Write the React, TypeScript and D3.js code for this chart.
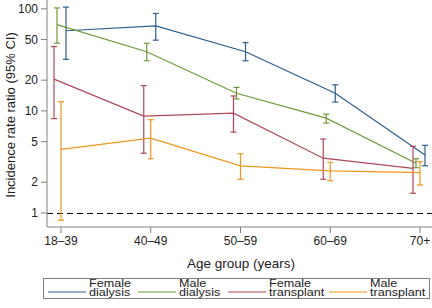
import React from "react";
import * as d3 from "d3";

const categories = ["18–39", "40–49", "50–59", "60–69", "70+"];
const seriesNames = ["Female dialysis", "Male dialysis", "Female transplant", "Male transplant"];
const legendLines = [["Female", "dialysis"], ["Male", "dialysis"], ["Female", "transplant"], ["Male", "transplant"]];
const colors = ["#2e5f8f", "#6e9a3a", "#b0485a", "#f0961e"];
const offsets = [5, -4, -7, 0];

const femaleDialysis = [61, 68, 38, 14.9, 3.7];
const femaleDialysisLo = [32, 49.3, 31, 12.2, 2.9];
const femaleDialysisHi = [104, 90, 46.7, 18, 4.6];

const maleDialysis = [70, 38, 14.9, 8.5, 3.07];
const maleDialysisLo = [46, 31, 13.1, 7.6, 2.78];
const maleDialysisHi = [102, 46, 17, 9.3, 3.4];

const femaleTransplant = [20.5, 8.9, 9.5, 3.44, 2.74];
const femaleTransplantLo = [8.4, 3.85, 6.2, 2.14, 1.56];
const femaleTransplantHi = [42.7, 17.7, 14, 5.3, 4.5];

const maleTransplant = [4.2, 5.4, 2.89, 2.58, 2.48];
const maleTransplantLo = [0.85, 3.4, 2.14, 2.07, 1.88];
const maleTransplantHi = [12.3, 8.2, 3.8, 3.14, 3.18];

const yTicks = [1, 2, 5, 10, 20, 50, 100];

const estimates = [femaleDialysis, maleDialysis, femaleTransplant, maleTransplant];
const lows = [femaleDialysisLo, maleDialysisLo, femaleTransplantLo, maleTransplantLo];
const highs = [femaleDialysisHi, maleDialysisHi, femaleTransplantHi, maleTransplantHi];

const FONT = "'Liberation Sans', Arial, Helvetica, sans-serif";

export default function App() {
  const W = 432, H = 308;
  const axisX = 47, axisY = 227;
  const x = d3.scalePoint<string>().domain(categories).range([61, 420]);
  const y = d3.scaleLog().domain([0.729, 122]).range([227, 0]);
  const line = d3.line<[number, number]>().x(d => d[0]).y(d => d[1]);
  const axisColor = "#808080";
  const textColor = "#222";
  const legendX = [48, 138, 228, 329];

  return (
    <svg width={W} height={H} style={{ position: "absolute", left: 0, top: 0 }} fontFamily={FONT}>
      <rect width={W} height={H} fill="#fff" />
      {/* reference line */}
      <line x1={axisX} x2={W} y1={Math.round(y(1)) + 0.5} y2={Math.round(y(1)) + 0.5} stroke="#000" strokeWidth={1.2} strokeDasharray="6,4" />
      {/* series */}
      {estimates.map((vals, s) => {
        const pts = vals.map((v, i) => [(x(categories[i]) as number) + offsets[s], y(v)] as [number, number]);
        return (
          <g key={s} stroke={colors[s]} strokeWidth={1.2} fill="none">
            <path d={line(pts) as string} />
            {vals.map((_, i) => {
              const cx = (x(categories[i]) as number) + offsets[s];
              const lo = y(lows[s][i]);
              const hi = y(highs[s][i]);
              return (
                <g key={i}>
                  <line x1={cx} x2={cx} y1={hi} y2={lo} />
                  <line x1={cx - 3} x2={cx + 3} y1={hi} y2={hi} />
                  <line x1={cx - 3} x2={cx + 3} y1={lo} y2={lo} />
                </g>
              );
            })}
          </g>
        );
      })}
      {/* axes */}
      <line x1={axisX} x2={axisX} y1={0} y2={axisY} stroke={axisColor} strokeWidth={1} />
      <line x1={axisX} x2={W} y1={axisY} y2={axisY} stroke={axisColor} strokeWidth={1} />
      {yTicks.map(t => (
        <g key={t}>
          <line x1={axisX - 6} x2={axisX} y1={y(t)} y2={y(t)} stroke={axisColor} />
          <text x={axisX - 9} y={y(t)} dy="0.35em" textAnchor="end" fontSize={12} fill={textColor}>{t}</text>
        </g>
      ))}
      {categories.map(c => (
        <g key={c}>
          <line x1={x(c)} x2={x(c)} y1={axisY} y2={axisY + 6} stroke={axisColor} />
          <text x={x(c)} y={axisY + 18} textAnchor="middle" fontSize={12} fill={textColor}>{c}</text>
        </g>
      ))}
      <text x={241} y={268} textAnchor="middle" fontSize={13.5} fill={textColor}>Age group (years)</text>
      <text transform={`translate(15,115) rotate(-90)`} textAnchor="middle" fontSize={13} fill={textColor}>Incidence rate ratio (95% CI)</text>
      {/* legend */}
      <rect x={43.5} y={278.5} width={386} height={20} fill="none" stroke={axisColor} />
      {seriesNames.map((n, i) => (
        <g key={n}>
          <line x1={legendX[i]} x2={legendX[i] + 38} y1={292} y2={292} stroke={colors[i]} strokeWidth={1.2} />
          <text transform={`translate(${legendX[i] + 41},0) scale(1.2,1)`} fontSize={10.5} fill={textColor}>
            <tspan x={0} y={287.5}>{legendLines[i][0]}</tspan>
            <tspan x={0} y={296.5}>{legendLines[i][1]}</tspan>
          </text>
        </g>
      ))}
    </svg>
  );
}
